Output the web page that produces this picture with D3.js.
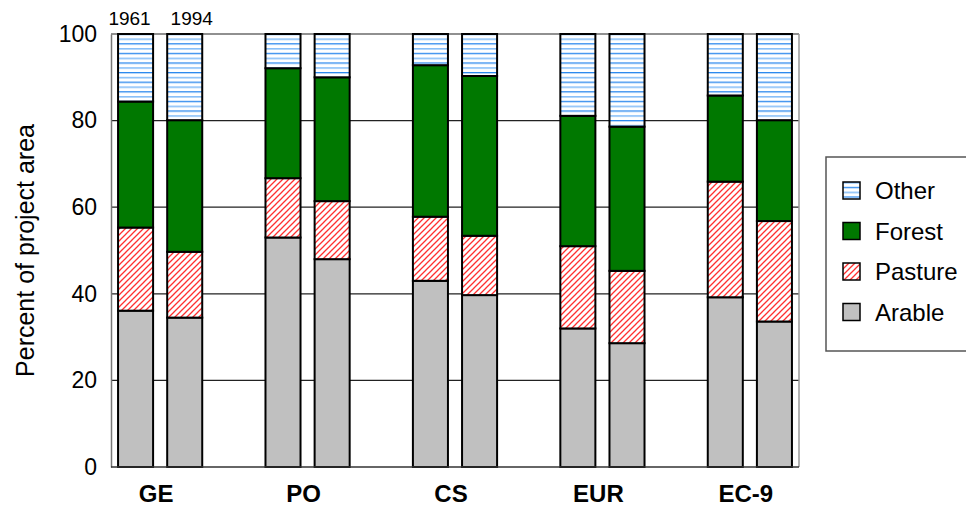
<!DOCTYPE html>
<html>
<head>
<meta charset="utf-8">
<script src="https://cdn.jsdelivr.net/npm/d3@7"></script>
<style>
  html, body { margin: 0; padding: 0; background: #fff; }
  svg { display: block; font-family: "Liberation Sans", Arial, sans-serif; }
</style>
</head>
<body>
<svg id="chart" width="966" height="508"></svg>
<script>
// Land use shares (percent of project area) per region, 1961 vs 1994
const regions = ["GE", "PO", "CS", "EUR", "EC-9"];
const years = ["1961", "1994"];
// values listed region by region, 1961 then 1994
const arable  = [36.1, 34.5, 53.0, 48.0, 43.0, 39.7, 32.0, 28.6, 39.2, 33.6];
const pasture = [19.2, 15.2, 13.7, 13.4, 14.8, 13.7, 19.0, 16.7, 26.7, 23.2];
const forest  = [29.1, 30.4, 25.4, 28.6, 35.0, 36.9, 30.1, 33.3, 19.9, 23.3];
const other   = [15.6, 19.9,  7.9, 10.0,  7.2,  9.7, 18.9, 21.4, 14.2, 19.9];
const yTicks = [0, 20, 40, 60, 80, 100];
const seriesKeys = ["Arable", "Pasture", "Forest", "Other"];
const legendOrder = ["Other", "Forest", "Pasture", "Arable"];

const rows = [];
regions.forEach((r, i) => years.forEach((y, j) => {
  const k = i * 2 + j;
  rows.push({ slot: r + "|" + y, region: r, year: y,
    Arable: arable[k], Pasture: pasture[k], Forest: forest[k], Other: other[k] });
}));

// category slots with an empty slot between regions
const slots = [];
regions.forEach((r, i) => {
  years.forEach(y => slots.push(r + "|" + y));
  if (i < regions.length - 1) slots.push("gap" + i);
});

const svg = d3.select("#chart");
const plot = { left: 111, right: 799, top: 34, bottom: 467 };

const x = d3.scaleBand().domain(slots).range([plot.left, plot.right])
  .paddingInner(0.287).paddingOuter(0.1435);
const y = d3.scaleLinear().domain([0, 100]).range([plot.bottom, plot.top]);

// fill patterns
const defs = svg.append("defs");
const pOther = defs.append("pattern").attr("id", "pat-other")
  .attr("patternUnits", "userSpaceOnUse").attr("width", 10).attr("height", 9.6);
pOther.append("rect").attr("width", 10).attr("height", 9.6).attr("fill", "#fff");
pOther.append("rect").attr("y", 0).attr("width", 10).attr("height", 1.6).attr("fill", "#88bff8");
pOther.append("rect").attr("y", 4.8).attr("width", 10).attr("height", 1.3).attr("fill", "#2a88ee");

const pPast = defs.append("pattern").attr("id", "pat-pasture")
  .attr("patternUnits", "userSpaceOnUse").attr("width", 6).attr("height", 6);
pPast.append("rect").attr("width", 6).attr("height", 6).attr("fill", "#fff");
pPast.append("path").attr("d", "M-1,7 L7,-1 M-4,4 L4,-4 M2,10 L10,2")
  .attr("stroke", "#ff3030").attr("stroke-width", 1.3);

const fills = {
  Arable: "#c0c0c0",
  Pasture: "url(#pat-pasture)",
  Forest: "#007800",
  Other: "url(#pat-other)"
};

// gridlines
svg.append("g").selectAll("line").data(yTicks.filter(t => t > 0)).join("line")
  .attr("x1", plot.left).attr("x2", plot.right)
  .attr("y1", d => y(d)).attr("y2", d => y(d))
  .attr("stroke", "#222").attr("stroke-width", 1.2);

// right side of the plot frame
svg.append("line").attr("x1", plot.right).attr("x2", plot.right)
  .attr("y1", plot.top).attr("y2", plot.bottom)
  .attr("stroke", "#999").attr("stroke-width", 1.5);

// stacked bars
const stack = d3.stack().keys(seriesKeys)(rows);
svg.append("g").selectAll("g").data(stack).join("g")
  .attr("fill", d => fills[d.key])
  .selectAll("rect").data(d => d).join("rect")
  .attr("x", d => x(d.data.slot))
  .attr("width", x.bandwidth())
  .attr("y", d => y(d[1]))
  .attr("height", d => y(d[0]) - y(d[1]))
  .attr("stroke", "#000").attr("stroke-width", 2);

// axes
const yAxis = d3.axisLeft(y).tickValues(yTicks).tickSize(0).tickPadding(14);
const gy = svg.append("g").attr("transform", `translate(${plot.left},0)`).call(yAxis);
gy.select(".domain").attr("stroke", "#777").attr("stroke-width", 1.5);
gy.selectAll("text").attr("font-size", 23).attr("fill", "#000")
  .attr("font-family", "Liberation Sans, Arial, sans-serif");

svg.append("line").attr("x1", plot.left).attr("x2", plot.right)
  .attr("y1", plot.bottom).attr("y2", plot.bottom)
  .attr("stroke", "#333").attr("stroke-width", 1.5);

// region labels
svg.append("g").selectAll("text").data(regions).join("text")
  .attr("x", r => (x(r + "|1961") + x(r + "|1994") + x.bandwidth()) / 2 - 4)
  .attr("y", 502)
  .attr("text-anchor", "middle")
  .attr("font-size", 24).attr("font-weight", "bold")
  .text(r => r);

// year labels above the first pair
svg.append("g").selectAll("text").data(years).join("text")
  .attr("x", (yr, i) => x(regions[0] + "|" + yr) + x.bandwidth() / 2 + (i === 0 ? -6 : 7))
  .attr("y", 25)
  .attr("text-anchor", "middle")
  .attr("font-size", 19)
  .text(yr => yr);

// y axis title
svg.append("text")
  .attr("transform", `translate(34,${(plot.top + plot.bottom) / 2}) rotate(-90)`)
  .attr("text-anchor", "middle")
  .attr("font-size", 25)
  .text("Percent of project area");

// legend
const lg = svg.append("g");
lg.append("rect").attr("x", 826).attr("y", 157).attr("width", 150).attr("height", 194)
  .attr("fill", "#fff").attr("stroke", "#555").attr("stroke-width", 1.5);
const items = lg.selectAll("g").data(legendOrder).join("g")
  .attr("transform", (d, i) => `translate(843,${182 + i * 40.5})`);
items.append("rect").attr("width", 17).attr("height", 17)
  .attr("fill", d => fills[d]).attr("stroke", "#000").attr("stroke-width", 1.5);
items.append("text").attr("x", 32).attr("y", 8.5).attr("dy", "0.36em")
  .attr("font-size", 24).text(d => d);
</script>
</body>
</html>
